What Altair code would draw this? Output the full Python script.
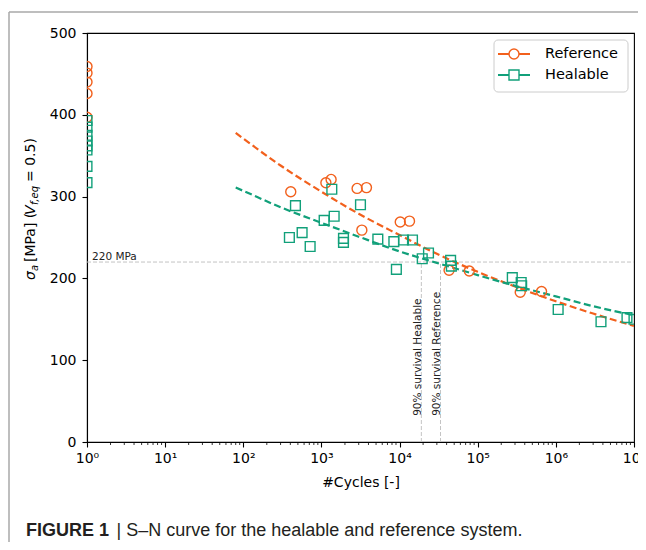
import altair as alt
import pandas as pd

# ---------------- data ----------------
ref_n = [1, 1, 1, 1, 1, 405, 1140, 1330, 2860, 3770, 3290, 10200, 13400,
         43000, 78000, 350000, 656000]
ref_s = [459, 451, 440, 426, 397, 306, 317, 321, 310, 311, 259, 269, 270,
         210, 209, 183, 184]

heal_n = [1, 1, 1, 1, 1, 1, 1, 1,
          389, 465, 566, 717, 1083, 1358, 1455, 1915, 1915, 3160, 5270, 8450,
          9100, 11220, 14630, 19500, 23450, 45000, 46000, 277000, 360000,
          365000, 1070000, 3780000, 8130000, 10000000]
heal_s = [393, 385, 375, 368, 362, 357, 337, 317,
          250, 289, 256, 239, 271, 309, 276, 249, 244, 290, 248, 245,
          211, 247, 247, 224, 231, 222, 215, 201, 195,
          191, 162, 147, 152, 150]

fit_n = [80, 100, 300, 1000, 3000, 10000, 30000, 100000, 300000, 1000000,
         3000000, 10000000]
fit_ref = [378, 371, 338, 306, 279, 253, 230, 208, 190, 172, 157, 142]
fit_heal = [311, 307, 287, 268, 251, 233, 219, 204, 191, 178, 166, 155]

level_mpa = 220
level_label = "220 MPa"
surv_n = [19000, 33400]
surv_labels = ["90% survival Healable", "90% survival Reference"]

series_names = ["Reference", "Healable"]
x_ticks = [1, 10, 100, 1000, 10000, 100000, 1000000, 10000000]
x_tick_labels = ["10⁰", "10¹", "10²", "10³", "10⁴", "10⁵", "10⁶", "10⁷"]
minor_ticks = [k * 10 ** d for d in range(7) for k in range(2, 10)]
y_ticks = [0, 100, 200, 300, 400, 500]

x_title = "#Cycles [-]"
caption_bold = "FIGURE 1"
caption_rest = "| S–N curve for the healable and reference system."

ORANGE = "#F2601C"
GREEN = "#11A07A"
GRAY = "#c4c4c4"
FONT = "DejaVu Sans"

# ---------------- tables ----------------
ref_df = pd.DataFrame({"n": ref_n, "s": ref_s})
heal_df = pd.DataFrame({"n": heal_n, "s": heal_s})
fit_df = pd.DataFrame({"n": fit_n, "ref": fit_ref, "heal": fit_heal})
surv_df = pd.DataFrame({"n": surv_n, "label": surv_labels})
minor_df = pd.DataFrame({"n": minor_ticks})
one = pd.DataFrame({"a": [0]})

label_expr = "[" + ",".join("'%s'" % t for t in x_tick_labels) + "][round(log(datum.value)/LN10)]"

xscale = alt.Scale(type="log", domain=[1, 1e7], nice=False)
yscale = alt.Scale(domain=[0, 500], nice=False)
xaxis = alt.Axis(values=x_ticks, labelExpr=label_expr, title=x_title,
                 tickSize=5, labelPadding=4, titlePadding=10, grid=False,
                 labelFlush=False)
yaxis = alt.Axis(values=y_ticks, title=None, tickSize=5, labelPadding=6, grid=False)


def X(field=None, datum=None):
    if field is not None:
        return alt.X(field, type="quantitative", scale=xscale, axis=xaxis)
    return alt.X(datum=datum, type="quantitative", scale=xscale, axis=xaxis)


def Y(field=None, datum=None):
    if field is not None:
        return alt.Y(field, type="quantitative", scale=yscale, axis=yaxis)
    return alt.Y(datum=datum, type="quantitative", scale=yscale, axis=yaxis)


# guide lines
hline = alt.Chart(one).mark_rule(color=GRAY, strokeWidth=1, strokeDash=[4, 2]).encode(
    x=X(datum=x_ticks[0]), x2=alt.X2(datum=x_ticks[-1]), y=Y(datum=level_mpa))
vlines = alt.Chart(surv_df).mark_rule(color=GRAY, strokeWidth=1, strokeDash=[4, 2]).encode(
    x=X("n"), y=Y(datum=0), y2=alt.Y2(datum=level_mpa))
hlabel = alt.Chart(one).mark_text(align="left", baseline="alphabetic", font=FONT,
                                  fontSize=10.5, color="#222").encode(
    x=X(datum=1.16), y=Y(datum=223), text=alt.value(level_label))
vlabels = alt.Chart(surv_df).mark_text(align="left", baseline="alphabetic", angle=270,
                                       font=FONT, fontSize=10.5, color="#222").encode(
    x=X("n"), y=Y(datum=32), text="label")

# fits
fit_r = alt.Chart(fit_df).mark_line(color=ORANGE, strokeWidth=2.2, strokeDash=[7, 3.5],
                                    interpolate="monotone", clip=True).encode(
    x=X("n"), y=Y("ref"))
fit_h = alt.Chart(fit_df).mark_line(color=GREEN, strokeWidth=2.2, strokeDash=[7, 3.5],
                                    interpolate="monotone", clip=True).encode(
    x=X("n"), y=Y("heal"))

# points
pts_r = alt.Chart(ref_df).mark_point(shape="circle", filled=False, size=100,
                                     strokeWidth=1.4, color=ORANGE, opacity=1,
                                     clip=True).encode(x=X("n"), y=Y("s"))
pts_h = alt.Chart(heal_df).mark_point(shape="square", filled=False, size=95,
                                      strokeWidth=1.4, color=GREEN, opacity=1,
                                      clip=True).encode(x=X("n"), y=Y("s"))

# minor ticks
minor = alt.Chart(minor_df).mark_rule(color="black", strokeWidth=0.8).encode(
    x=X("n"), y=alt.value(409), y2=alt.value(412))

# legend (manual, matplotlib style)
leg_box = alt.Chart(one).mark_rect(fill="white", fillOpacity=0.85, stroke="#cccccc",
                                   strokeWidth=1, cornerRadius=4).encode(
    x=alt.value(407), x2=alt.value(541), y=alt.value(7), y2=alt.value(59))
leg_parts = []
for i, (name, col, shp) in enumerate([(series_names[0], ORANGE, "circle"),
                                      (series_names[1], GREEN, "square")]):
    yy = 21 + 21 * i
    leg_parts.append(alt.Chart(one).mark_rule(color=col, strokeWidth=2).encode(
        x=alt.value(411), x2=alt.value(443), y=alt.value(yy)))
    leg_parts.append(alt.Chart(one).mark_point(shape=shp, filled=True, fill="white",
                                               stroke=col, strokeWidth=1.4, size=100,
                                               opacity=1).encode(
        x=alt.value(427), y=alt.value(yy)))
    leg_parts.append(alt.Chart(one).mark_text(align="left", baseline="middle", font=FONT,
                                              fontSize=14.5, color="black").encode(
        x=alt.value(458), y=alt.value(yy), text=alt.value(name)))

# y-axis title built from pieces (rotated)
yt = []
def ytext(txt, x, y, size, style="normal"):
    return alt.Chart(one).mark_text(align="left", baseline="alphabetic", angle=270,
                                    font=FONT, fontSize=size, fontStyle=style,
                                    color="black").encode(
        x=alt.value(x), y=alt.value(y), text=alt.value(txt))

yt.append(ytext("σ", -52, 247, 14, "italic"))
yt.append(ytext("a", -49, 238, 10, "italic"))
yt.append(ytext("[MPa] (", -52, 229, 14))
yt.append(ytext("V", -52, 182, 14, "italic"))
yt.append(ytext("f,eq", -49, 172, 10, "italic"))
yt.append(ytext("= 0.5)", -52, 149, 14))

# figure frame and caption
frame_left = alt.Chart(one).mark_rule(color="#a8a8a8", strokeWidth=1.5).encode(
    x=alt.value(-78), y=alt.value(-21), y2=alt.value(520))
frame_top = alt.Chart(one).mark_rule(color="#a8a8a8", strokeWidth=1.5).encode(
    x=alt.value(-78), x2=alt.value(570), y=alt.value(-21))
cap1 = alt.Chart(one).mark_text(align="left", baseline="alphabetic", font="Liberation Sans",
                                fontSize=18, fontWeight="bold", color="#231f20").encode(
    x=alt.value(-61), y=alt.value(503), text=alt.value(caption_bold))
cap2 = alt.Chart(one).mark_text(align="left", baseline="alphabetic", font="Liberation Sans",
                                fontSize=18, color="#231f20").encode(
    x=alt.value(29.5), y=alt.value(503), text=alt.value(caption_rest))

chart = alt.layer(
    hline, vlines, hlabel, vlabels, fit_r, fit_h, pts_r, pts_h, minor,
    leg_box, *leg_parts, *yt, frame_left, frame_top, cap1, cap2
).properties(
    width=547, height=409,
    autosize=alt.AutoSizeParams(type="none"),
    padding={"left": 79, "top": 25, "right": 4, "bottom": 100},
).configure_view(
    stroke="black", strokeWidth=1.1
).configure_axis(
    domainColor="black", domainWidth=1.1, tickColor="black", tickWidth=1.1,
    labelColor="black", labelFont=FONT, labelFontSize=14,
    titleFont=FONT, titleFontSize=14, titleFontWeight="normal", titleColor="black",
)

chart.save("out.html", embed_options={"renderer": "svg", "actions": False})
